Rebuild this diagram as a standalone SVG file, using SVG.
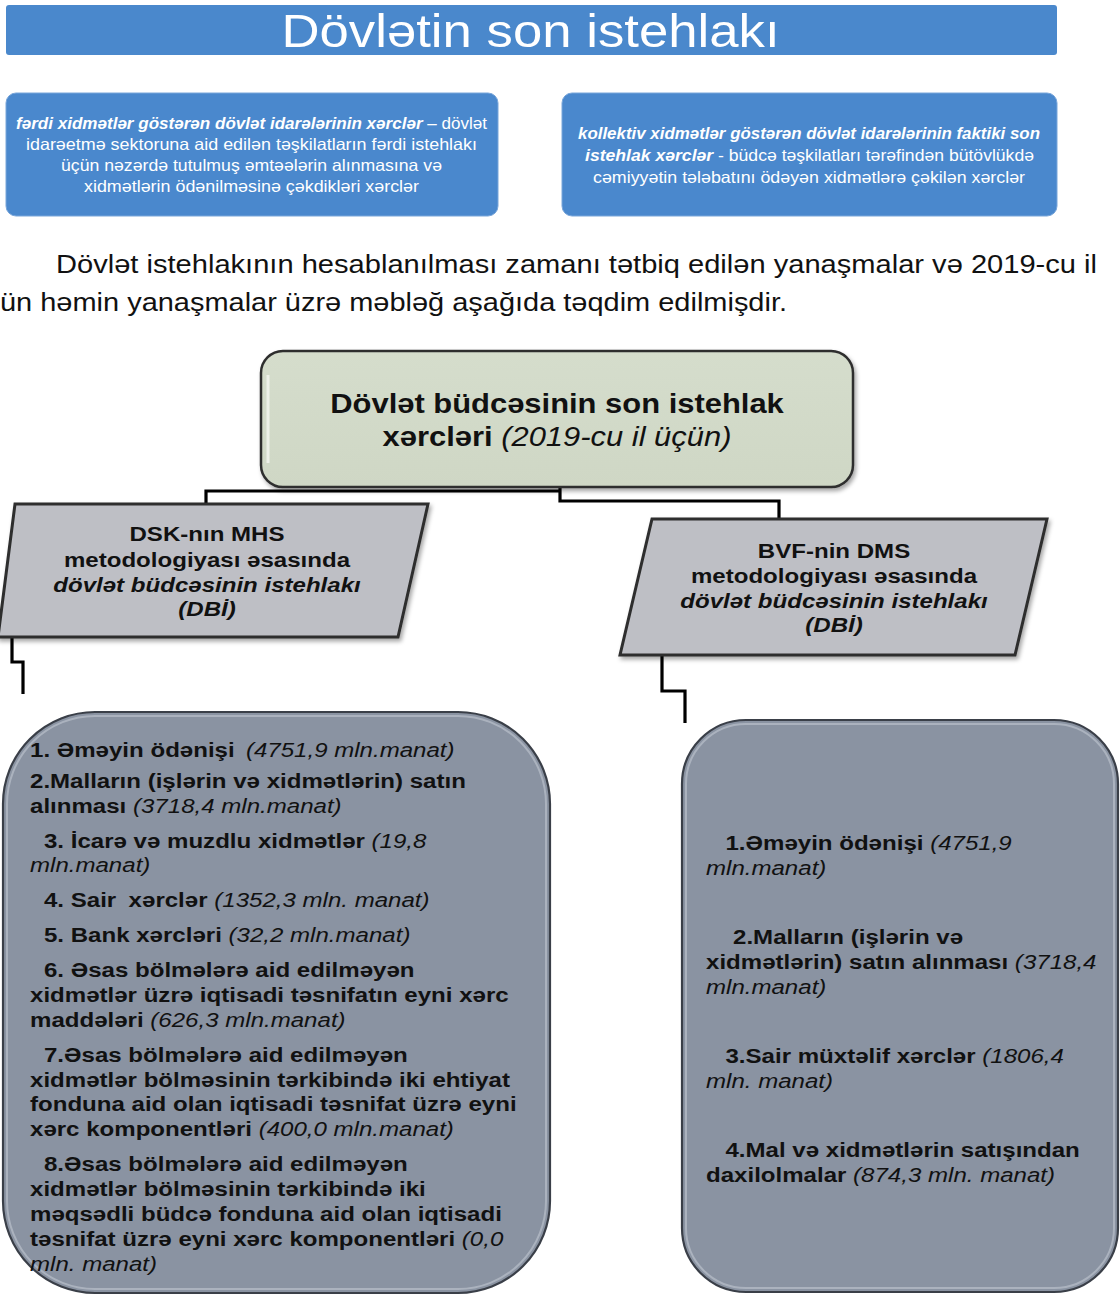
<svg xmlns="http://www.w3.org/2000/svg" width="1120" height="1295" viewBox="0 0 1120 1295">
<style>
text{font-family:"Liberation Sans",Arial,sans-serif}
.w{fill:#ffffff}
.k{fill:#111111}
.b{font-weight:700}
.i{font-style:italic;font-weight:400}
.bi{font-weight:700;font-style:italic}
.conn{fill:none;stroke:#000;stroke-width:3.2;stroke-linejoin:miter}
.blue{fill:#4A88CD;stroke:#79A6DA;stroke-width:1}
.para{fill:#BEBFC5;stroke:#2E2E2E;stroke-width:3}
.gbox{fill:#8A93A2;stroke:#3A3F48;stroke-width:2.2}
.hl{fill:none;stroke:#B3BAC6;stroke-width:2;opacity:.8}
</style>
<defs>
<linearGradient id="gc" x1="0" y1="0" x2="0" y2="1">
<stop offset="0" stop-color="#D5DDCC"/>
<stop offset="1" stop-color="#CFD7C5"/>
</linearGradient>
<filter id="sh" x="-5%" y="-5%" width="110%" height="115%">
<feDropShadow dx="2" dy="3" stdDeviation="2" flood-color="#000" flood-opacity="0.35"/>
</filter>
</defs>

<g id="title">
<rect x="6" y="5" width="1051" height="50" rx="3" fill="#4A88CC"/>
<g transform="translate(530.5 0) scale(1.146 1)">
<text class="w" x="0" y="47" font-size="46" text-anchor="middle">Dövlətin son istehlakı</text>
</g>
</g>

<g id="box-individual">
<rect class="blue" x="6" y="93" width="492" height="123" rx="10"/>
<text class="w" font-size="16.5" text-anchor="middle" x="251.5" y="128.5" textLength="471" lengthAdjust="spacingAndGlyphs"><tspan class="bi">fərdi xidmətlər göstərən dövlət idarələrinin xərclər</tspan> – dövlət</text>
<text class="w" font-size="16.5" text-anchor="middle" x="251.5" y="149.5" textLength="451" lengthAdjust="spacingAndGlyphs">idarəetmə sektoruna aid edilən təşkilatların fərdi istehlakı</text>
<text class="w" font-size="16.5" text-anchor="middle" x="251.5" y="170.5" textLength="381" lengthAdjust="spacingAndGlyphs">üçün nəzərdə tutulmuş əmtəələrin alınmasına və</text>
<text class="w" font-size="16.5" text-anchor="middle" x="251.5" y="191.5" textLength="335" lengthAdjust="spacingAndGlyphs">xidmətlərin ödənilməsinə çəkdikləri xərclər</text>
</g>

<g id="box-collective">
<rect class="blue" x="562" y="93" width="495" height="123" rx="10"/>
<text class="w bi" font-size="16.5" text-anchor="middle" x="809" y="138.5" textLength="462" lengthAdjust="spacingAndGlyphs">kollektiv xidmətlər göstərən dövlət idarələrinin faktiki son</text>
<text class="w" font-size="16.5" text-anchor="middle" x="809.5" y="160.5" textLength="449" lengthAdjust="spacingAndGlyphs"><tspan class="bi">istehlak xərclər</tspan> - büdcə təşkilatları tərəfindən bütövlükdə</text>
<text class="w" font-size="16.5" text-anchor="middle" x="809" y="182.5" textLength="432" lengthAdjust="spacingAndGlyphs">cəmiyyətin tələbatını ödəyən xidmətlərə çəkilən xərclər</text>
</g>

<g id="paragraph">
<text class="k" font-size="25" x="56" y="273" textLength="1041" lengthAdjust="spacingAndGlyphs">Dövlət istehlakının hesablanılması zamanı tətbiq edilən yanaşmalar və 2019-cu il</text>
<text class="k" font-size="25" x="0" y="311" textLength="787" lengthAdjust="spacingAndGlyphs">ün həmin yanaşmalar üzrə məbləğ aşağıda təqdim edilmişdir.</text>
</g>

<g id="connectors">
<path class="conn" d="M206 522 V491 H560 M560 487 V501 H779 V531"/>
<path class="conn" d="M12 637 V662 H23 V694"/>
<path class="conn" d="M662 655 V691 H685 V723"/>
</g>

<g id="node-root">
<rect x="261" y="351" width="592" height="136" rx="22" fill="url(#gc)" stroke="#2F2F2F" stroke-width="2.5" filter="url(#sh)"/>
<path d="M268 375 V463" stroke="#F4F6F0" stroke-width="3" fill="none" opacity="0.8"/>
<g transform="translate(557 0) scale(1.146 1)">
<text class="k b" font-size="27" x="0" y="413" text-anchor="middle">Dövlət büdcəsinin son istehlak</text>
<text class="k" font-size="27" x="0" y="446" text-anchor="middle"><tspan class="b">xərcləri</tspan> <tspan class="i">(2019-cu il üçün)</tspan></text>
</g>
</g>

<g id="node-dsk">
<polygon class="para" points="15,504 428,504 398,637 -2,637" filter="url(#sh)"/>
<g transform="translate(207 0) scale(1.146 1)">
<text class="k b" font-size="21" x="0" y="541" text-anchor="middle">DSK-nın MHS</text>
<text class="k b" font-size="21" x="0" y="567" text-anchor="middle">metodologiyası əsasında</text>
<text class="k bi" font-size="21" x="0" y="592" text-anchor="middle">dövlət büdcəsinin istehlakı</text>
<text class="k bi" font-size="21" x="0" y="616" text-anchor="middle">(DBİ)</text>
</g>
</g>

<g id="node-bvf">
<polygon class="para" points="652,519 1047,519 1015,655 620,655" filter="url(#sh)"/>
<g transform="translate(834 0) scale(1.146 1)">
<text class="k b" font-size="21" x="0" y="558" text-anchor="middle">BVF-nin DMS</text>
<text class="k b" font-size="21" x="0" y="583" text-anchor="middle">metodologiyası əsasında</text>
<text class="k bi" font-size="21" x="0" y="608" text-anchor="middle">dövlət büdcəsinin istehlakı</text>
<text class="k bi" font-size="21" x="0" y="632" text-anchor="middle">(DBİ)</text>
</g>
</g>

<g id="node-dsk-items">
<rect class="gbox" x="3" y="712" width="547" height="581" rx="92"/>
<rect class="hl" x="7" y="716" width="539" height="573" rx="88"/>
<g transform="translate(30 0) scale(1.146 1)" font-size="21" class="k">
<text x="0" y="757"><tspan class="b">1. Əməyin ödənişi </tspan><tspan class="i" dx="4">(4751,9 mln.manat)</tspan></text>
<text x="0" y="788" class="b">2.Malların (işlərin və xidmətlərin) satın</text>
<text x="0" y="813"><tspan class="b">alınması </tspan><tspan class="i">(3718,4 mln.manat)</tspan></text>
<text x="12.2" y="848"><tspan class="b">3. İcarə və muzdlu xidmətlər </tspan><tspan class="i">(19,8</tspan></text>
<text x="0" y="872" class="i">mln.manat)</text>
<text x="12.2" y="907"><tspan class="b">4. Sair </tspan><tspan class="b" dx="5">xərclər </tspan><tspan class="i">(1352,3 mln. manat)</tspan></text>
<text x="12.2" y="942"><tspan class="b">5. Bank xərcləri </tspan><tspan class="i">(32,2 mln.manat)</tspan></text>
<text x="12.2" y="977" class="b">6. Əsas bölmələrə aid edilməyən</text>
<text x="0" y="1002" class="b">xidmətlər üzrə iqtisadi təsnifatın eyni xərc</text>
<text x="0" y="1027"><tspan class="b">maddələri </tspan><tspan class="i">(626,3 mln.manat)</tspan></text>
<text x="12.2" y="1062" class="b">7.Əsas bölmələrə aid edilməyən</text>
<text x="0" y="1087" class="b">xidmətlər bölməsinin tərkibində iki ehtiyat</text>
<text x="0" y="1111" class="b">fonduna aid olan iqtisadi təsnifat üzrə eyni</text>
<text x="0" y="1136"><tspan class="b">xərc komponentləri </tspan><tspan class="i">(400,0 mln.manat)</tspan></text>
<text x="12.2" y="1171" class="b">8.Əsas bölmələrə aid edilməyən</text>
<text x="0" y="1196" class="b">xidmətlər bölməsinin tərkibində iki</text>
<text x="0" y="1221" class="b">məqsədli büdcə fonduna aid olan iqtisadi</text>
<text x="0" y="1246"><tspan class="b">təsnifat üzrə eyni xərc komponentləri </tspan><tspan class="i">(0,0</tspan></text>
<text x="0" y="1271" class="i">mln. manat)</text>
</g>
</g>

<g id="node-bvf-items">
<rect class="gbox" x="682" y="720" width="436" height="572" rx="64"/>
<rect class="hl" x="686" y="724" width="428" height="564" rx="60"/>
<g transform="translate(706 0) scale(1.146 1)" font-size="21" class="k">
<text x="17" y="850"><tspan class="b">1.Əməyin ödənişi </tspan><tspan class="i">(4751,9</tspan></text>
<text x="0" y="875" class="i">mln.manat)</text>
<text x="23.6" y="944" class="b">2.Malların (işlərin və</text>
<text x="0" y="969"><tspan class="b">xidmətlərin) satın alınması </tspan><tspan class="i">(3718,4</tspan></text>
<text x="0" y="994" class="i">mln.manat)</text>
<text x="17" y="1063"><tspan class="b">3.Sair müxtəlif xərclər </tspan><tspan class="i">(1806,4</tspan></text>
<text x="0" y="1088" class="i">mln. manat)</text>
<text x="17" y="1157" class="b">4.Mal və xidmətlərin satışından</text>
<text x="0" y="1182"><tspan class="b">daxilolmalar </tspan><tspan class="i">(874,3 mln. manat)</tspan></text>
</g>
</g>
</svg>
